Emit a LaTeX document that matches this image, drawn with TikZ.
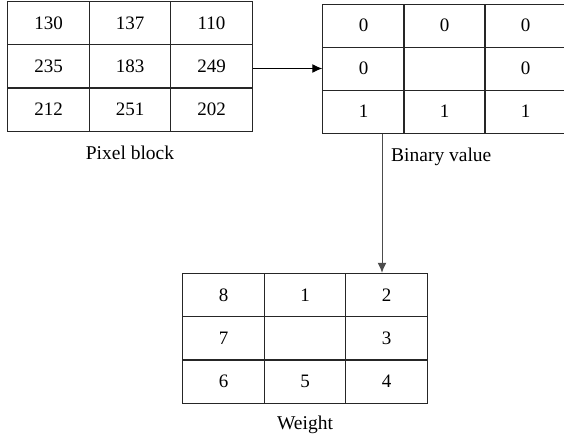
\documentclass[tikz,border=0pt]{standalone}
\usepackage{fontspec}
\setmainfont{Liberation Serif}
\usetikzlibrary{arrows.meta}
\begin{document}
\begin{tikzpicture}[x=1pt,y=-1pt,
  cell/.style={draw=black!85,line width=1pt,inner sep=0pt,minimum width=81.5pt,minimum height=43pt,font=\fontsize{19}{22}\selectfont},
  lbl/.style={inner sep=0pt,font=\fontsize{19.5}{22}\selectfont},
  arr/.style={line width=1pt,-{Latex[length=10pt,width=9pt]}}]
\useasboundingbox (0,0) rectangle (564,439);
% Pixel block
\node[cell] (p11) at (48.5,23) {130};
\node[cell] (p12) at (130,23) {137};
\node[cell] (p13) at (211.5,23) {110};
\node[cell] (p21) at (48.5,66) {235};
\node[cell] (p22) at (130,66) {183};
\node[cell] (p23) at (211.5,66) {249};
\node[cell] (p31) at (48.5,109.5) {212};
\node[cell] (p32) at (130,109.5) {251};
\node[cell] (p33) at (211.5,109.5) {202};
\node[lbl] (plabel) at (130,153) {Pixel block};
% Binary value
\node[cell] (b11) at (363.5,25.5) {0};
\node[cell] (b12) at (444.5,25.5) {0};
\node[cell] (b13) at (525.5,25.5) {0};
\node[cell] (b21) at (363.5,68.5) {0};
\node[cell] (b22) at (444.5,68.5) {};
\node[cell] (b23) at (525.5,68.5) {0};
\node[cell] (b31) at (363.5,111.5) {1};
\node[cell] (b32) at (444.5,111.5) {1};
\node[cell] (b33) at (525.5,111.5) {1};
\node[lbl,anchor=west] (blabel) at (391,157) {Binary value};
% Weight
\node[cell,minimum height=43.5pt] (w11) at (223.5,295) {8};
\node[cell,minimum height=43.5pt] (w12) at (305,295) {1};
\node[cell,minimum height=43.5pt] (w13) at (386.5,295) {2};
\node[cell,minimum height=43.5pt] (w21) at (223.5,338.5) {7};
\node[cell,minimum height=43.5pt] (w22) at (305,338.5) {};
\node[cell,minimum height=43.5pt] (w23) at (386.5,338.5) {3};
\node[cell,minimum height=43.5pt] (w31) at (223.5,381.5) {6};
\node[cell,minimum height=43.5pt] (w32) at (305,381.5) {5};
\node[cell,minimum height=43.5pt] (w33) at (386.5,381.5) {4};
\node[lbl] (wlabel) at (305,425) {Weight};
% connectors
\coordinate (vx) at (382,200);
\draw[arr] (p23.east |- b21.west) -- (b21.west);
\draw[arr,draw=black!70,fill=black] (b31.south -| vx) -- (w13.north -| vx);
\end{tikzpicture}
\end{document}
